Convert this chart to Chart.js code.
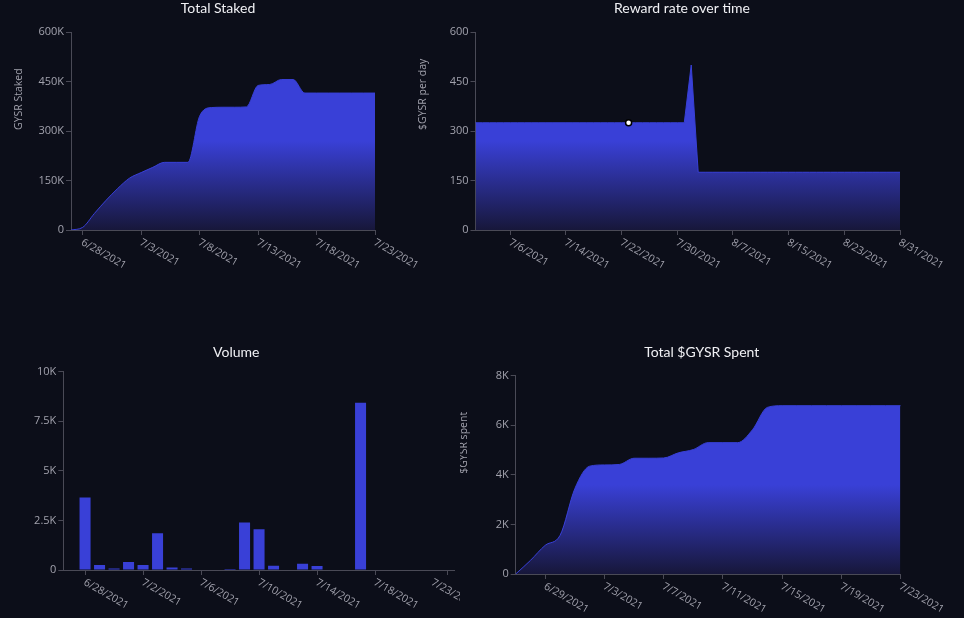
<!DOCTYPE html>
<html>
<head>
<meta charset="utf-8">
<script src="https://cdn.jsdelivr.net/npm/chart.js@4.4.1/dist/chart.umd.min.js"></script>
<style>
  html, body { margin: 0; padding: 0; background: #0c0e19; width: 964px; height: 618px; overflow: hidden; }
  .box { position: absolute; }
  #boxBR { background: #0c0e19; }
</style>
</head>
<body>
<div class="box" style="left:0;top:0;width:436px;height:280px"><canvas id="stakedChart"></canvas></div>
<div class="box" style="left:410px;top:0;width:534px;height:280px"><canvas id="rewardChart"></canvas></div>
<div class="box" style="left:0;top:344px;width:472px;height:276px"><canvas id="volumeChart"></canvas></div>
<div class="box" id="boxBR" style="left:460px;top:344px;width:504px;height:280px"><canvas id="spentChart"></canvas></div>
<script>
const stakeDays = ['6/27/2021', '6/28/2021', '6/29/2021', '6/30/2021', '7/1/2021', '7/2/2021', '7/3/2021',
  '7/4/2021', '7/5/2021', '7/6/2021', '7/7/2021', '7/8/2021', '7/9/2021', '7/10/2021', '7/11/2021',
  '7/12/2021', '7/13/2021', '7/14/2021', '7/15/2021', '7/16/2021', '7/17/2021', '7/18/2021',
  '7/19/2021', '7/20/2021', '7/21/2021', '7/22/2021', '7/23/2021'];

const totalStaked = [0, 8000, 50000, 90000, 126000, 157000, 174000, 190000, 205000, 205000, 205000,
  345000, 371000, 372000, 372000, 373000, 438000, 441000, 456000, 456000, 415000, 415000, 415000,
  415000, 415000, 415000, 415000];
const stakedTicks = ['6/28/2021', '7/3/2021', '7/8/2021', '7/13/2021', '7/18/2021', '7/23/2021'];

const rewardDays = ['7/1/2021', '7/2/2021', '7/3/2021', '7/4/2021', '7/5/2021', '7/6/2021', '7/7/2021',
  '7/8/2021', '7/9/2021', '7/10/2021', '7/11/2021', '7/12/2021', '7/13/2021', '7/14/2021', '7/15/2021',
  '7/16/2021', '7/17/2021', '7/18/2021', '7/19/2021', '7/20/2021', '7/21/2021', '7/22/2021', '7/23/2021',
  '7/24/2021', '7/25/2021', '7/26/2021', '7/27/2021', '7/28/2021', '7/29/2021', '7/30/2021', '7/31/2021',
  '8/1/2021', '8/2/2021', '8/3/2021', '8/4/2021', '8/5/2021', '8/6/2021', '8/7/2021', '8/8/2021',
  '8/9/2021', '8/10/2021', '8/11/2021', '8/12/2021', '8/13/2021', '8/14/2021', '8/15/2021', '8/16/2021',
  '8/17/2021', '8/18/2021', '8/19/2021', '8/20/2021', '8/21/2021', '8/22/2021', '8/23/2021', '8/24/2021',
  '8/25/2021', '8/26/2021', '8/27/2021', '8/28/2021', '8/29/2021', '8/30/2021', '8/31/2021'];
const rewardRate = [325, 325, 325, 325, 325, 325, 325, 325, 325, 325, 325, 325, 325, 325, 325, 325,
  325, 325, 325, 325, 325, 325, 325, 325, 325, 325, 325, 325, 325, 325, 325,
  500,
  175, 175, 175, 175, 175, 175, 175, 175, 175, 175, 175, 175, 175, 175, 175,
  175, 175, 175, 175, 175, 175, 175, 175, 175, 175, 175, 175, 175, 175, 175];
const rewardTicks = ['7/6/2021', '7/14/2021', '7/22/2021', '7/30/2021', '8/7/2021', '8/15/2021', '8/23/2021', '8/31/2021'];
const rewardHover = '7/23/2021';

const volume = [0, 3660, 250, 80, 400, 250, 1850, 130, 80, 0, 0, 50, 2400, 2050, 220, 0, 310, 200,
  20, 0, 8440, 0, 0, 0, 0, 0, 0];
const volumeTicks = ['6/28/2021', '7/2/2021', '7/6/2021', '7/10/2021', '7/14/2021', '7/18/2021', '7/23/2021'];

const gysrSpent = [0, 550, 1160, 1560, 3450, 4350, 4400, 4420, 4670, 4670, 4680, 4890, 5020, 5300,
  5300, 5300, 5820, 6720, 6790, 6790, 6790, 6790, 6790, 6790, 6790, 6790, 6790];
const spentTicks = ['6/29/2021', '7/3/2021', '7/7/2021', '7/11/2021', '7/15/2021', '7/19/2021', '7/23/2021'];

const blue = '#3940d7';
const axisGray = '#4a4a56';
const tickGray = '#a2a2ad';

// gradient under the areas, bright at the top, dark near the axis
function areaFill(context) {
  const { ctx, chartArea } = context.chart;
  if (!chartArea) return blue;
  const g = ctx.createLinearGradient(0, chartArea.top, 0, chartArea.bottom);
  g.addColorStop(0, blue);
  g.addColorStop(0.55, blue);
  g.addColorStop(1, '#17173a');
  return g;
}

// slanted date labels (start at the tick, run down to the right) and the y titles
const axisText = {
  id: 'axisText',
  afterDraw(chart, args, opts) {
    const { ctx, chartArea } = chart;
    const x = chart.scales.x;
    const last = x.ticks.length - 1;
    ctx.save();
    ctx.font = '10.5px "Open Sans"';
    ctx.fillStyle = tickGray;
    ctx.textAlign = 'left';
    ctx.textBaseline = 'top';
    x.ticks.forEach((t, i) => {
      const shift = i === last ? (opts.lastShift || 0) : 0;
      ctx.save();
      ctx.translate(x.getPixelForTick(i) + 2 + shift, x.top + 7);
      ctx.rotate(30 * Math.PI / 180);
      ctx.fillText(x.getLabelForValue(t.value), 0, 0);
      ctx.restore();
    });
    if (opts.title) {
      ctx.font = '10.5px "Open Sans"';
      ctx.textBaseline = 'middle';
      ctx.translate(chartArea.left - 52, (chartArea.top + chartArea.bottom) / 2 - 1);
      ctx.rotate(-Math.PI / 2);
      ctx.fillText(opts.title, 0, 0);
    }
    ctx.restore();
  }
};

function xAxis(wanted, offset) {
  return {
    offset: offset,
    border: { color: axisGray },
    grid: { drawOnChartArea: false, tickLength: 5, tickColor: axisGray, offset: false },
    ticks: { display: false, autoSkip: false },
    afterBuildTicks: s => { s.ticks = s.ticks.filter(t => wanted.includes(s.getLabelForValue(t.value))); },
    afterFit: s => { s.height = 50; }
  };
}

function yAxis(max, step, fmt) {
  return {
    min: 0,
    max: max,
    border: { color: axisGray },
    grid: { drawOnChartArea: false, tickLength: 5, tickColor: axisGray },
    ticks: { stepSize: step, color: tickGray, padding: 2, font: { family: 'Open Sans', size: 11 }, callback: fmt },
    afterFit: s => { s.width = 48; }
  };
}

// empty box on the right so the title stays centred where the original had it
function rightGap(width) {
  return {
    type: 'linear',
    position: 'right',
    grid: { display: false },
    border: { display: false },
    ticks: { display: false },
    afterFit: s => { s.width = width; }
  };
}

function kFormat(v) {
  return v === 0 ? '0' : (v / 1000) + 'K';
}

function baseOptions(title, titleGap, pad, yTitle) {
  return {
    responsive: true,
    maintainAspectRatio: false,
    animation: false,
    events: [],
    layout: { padding: { left: pad[0], right: pad[1], top: 0, bottom: 0 } },
    plugins: {
      legend: { display: false },
      tooltip: { enabled: false },
      title: {
        display: true,
        text: title,
        color: '#f0f0f4',
        font: { family: 'Lato', size: 14, weight: 'normal' },
        padding: { top: 0, bottom: titleGap }
      },
      axisText: { title: yTitle }
    }
  };
}

const stakedOpts = baseOptions('Total Staked', 15.2, [23, 23], 'GYSR Staked');
stakedOpts.scales = { x: xAxis(stakedTicks, false), y: yAxis(600000, 150000, kFormat), gap: rightGap(38) };
new Chart(document.getElementById('stakedChart'), {
  type: 'line',
  data: {
    labels: stakeDays,
    datasets: [{
      data: totalStaked,
      borderColor: blue,
      borderWidth: 1,
      backgroundColor: areaFill,
      fill: 'origin',
      pointRadius: 0,
      cubicInterpolationMode: 'monotone'
    }]
  },
  options: stakedOpts,
  plugins: [axisText]
});

const rewardOpts = baseOptions('Reward rate over time', 15.2, [17.5, 7.5], '$GYSR per day');
rewardOpts.scales = { x: xAxis(rewardTicks, false), y: yAxis(600, 150, v => String(v)), gap: rightGap(36.5) };
new Chart(document.getElementById('rewardChart'), {
  type: 'line',
  data: {
    labels: rewardDays,
    datasets: [{
      data: rewardRate,
      borderColor: blue,
      borderWidth: 1,
      backgroundColor: areaFill,
      fill: 'origin',
      tension: 0,
      pointRadius: ctx => rewardDays[ctx.dataIndex] === rewardHover ? 3 : 0,
      pointBackgroundColor: '#ffffff',
      pointBorderColor: '#000000',
      pointBorderWidth: 1.5
    }]
  },
  options: rewardOpts,
  plugins: [axisText]
});

const volumeOpts = baseOptions('Volume', 10.9, [15.3, 14.7], '');
volumeOpts.plugins.axisText.lastShift = -15;
volumeOpts.scales = { x: xAxis(volumeTicks, true), y: yAxis(10000, 2500, kFormat), gap: rightGap(2.5) };
new Chart(document.getElementById('volumeChart'), {
  type: 'bar',
  data: {
    labels: stakeDays,
    datasets: [{
      data: volume,
      backgroundColor: blue,
      barPercentage: 0.95,
      categoryPercentage: 0.8
    }]
  },
  options: volumeOpts,
  plugins: [axisText]
});

const spentOpts = baseOptions('Total $GYSR Spent', 14.9, [7.7, 28.3], '$GYSR spent');
spentOpts.scales = { x: xAxis(spentTicks, false), y: yAxis(8000, 2000, kFormat), gap: rightGap(35.2) };
new Chart(document.getElementById('spentChart'), {
  type: 'line',
  data: {
    labels: stakeDays,
    datasets: [{
      data: gysrSpent,
      borderColor: blue,
      borderWidth: 1,
      backgroundColor: areaFill,
      fill: 'origin',
      pointRadius: 0,
      cubicInterpolationMode: 'monotone'
    }]
  },
  options: spentOpts,
  plugins: [axisText]
});
</script>
</body>
</html>
